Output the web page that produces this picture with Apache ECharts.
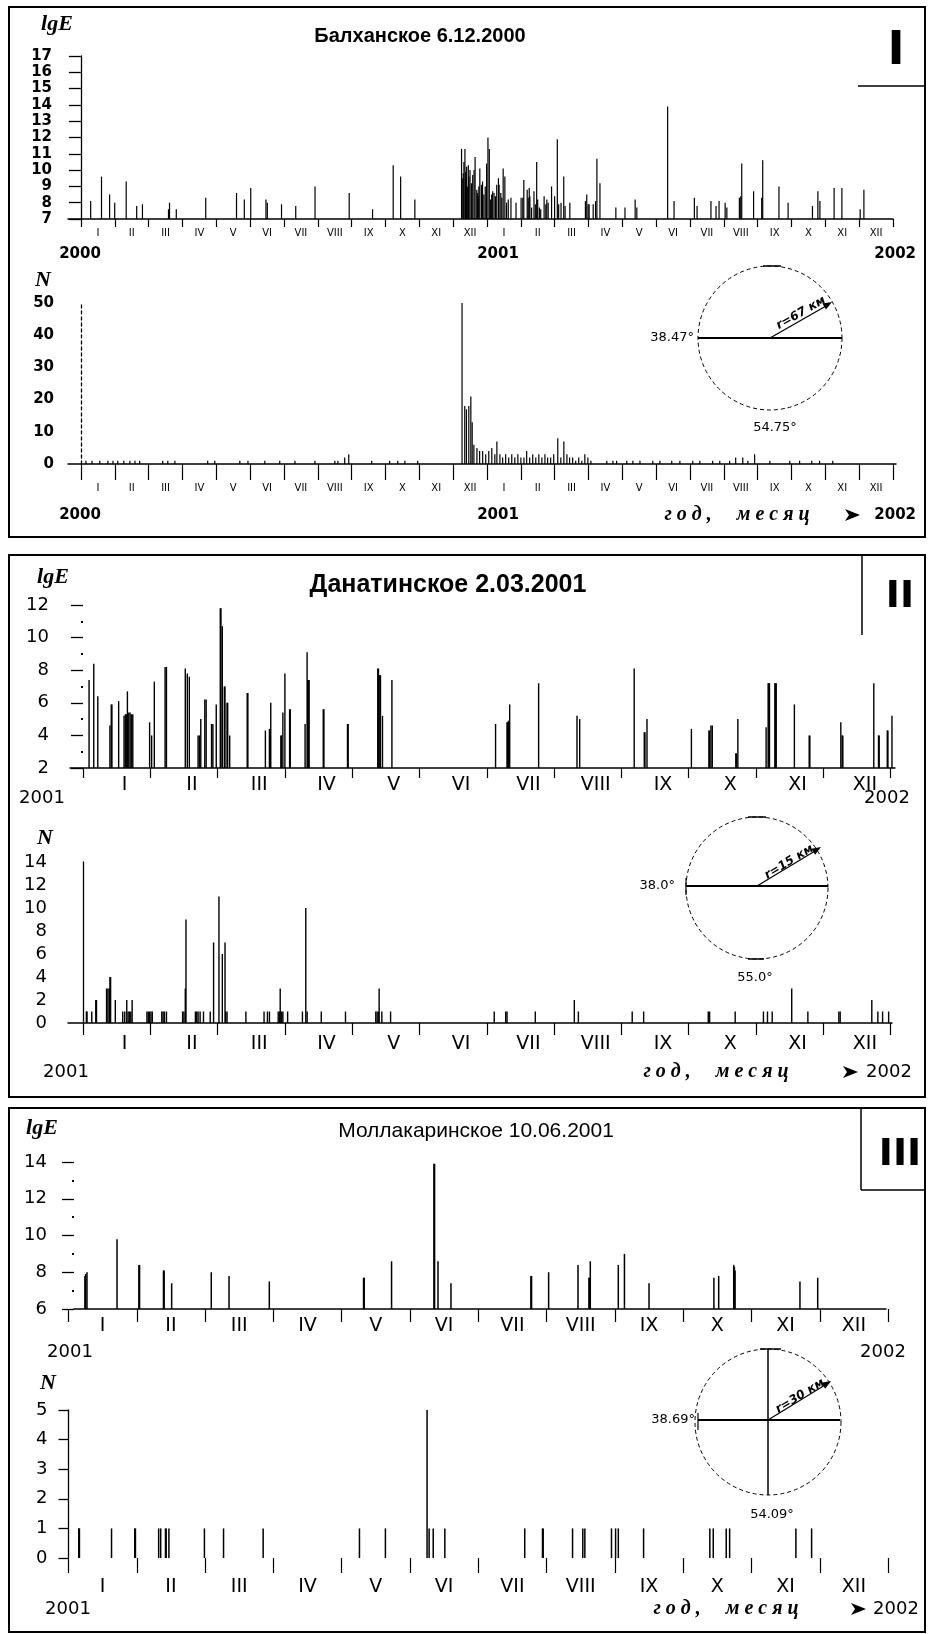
<!DOCTYPE html>
<html><head><meta charset="utf-8">
<script src="https://cdn.jsdelivr.net/npm/echarts@6/dist/echarts.min.js"></script>
<style>html,body{margin:0;padding:0;background:#fff}#c{width:928px;height:1634px}</style>
</head><body><div id="c"></div>
<script>
// ---------- labels ----------
const MONTHS = ['I','II','III','IV','V','VI','VII','VIII','IX','X','XI','XII'];
const MONTHS_2Y = MONTHS.concat(MONTHS);
const YEARS_I = ['2000','2001','2002'];
const YEARS_II = ['2001','2002'];
const TITLES = ['Балханское 6.12.2000','Данатинское 2.03.2001','Моллакаринское 10.06.2001'];

// ---------- data: [month position since 1 Jan of first year, value] ----------
// I. Балханское — lgE (2000–2001)
const balkhanLgE = [[0.29,8.1],[0.61,9.6],[0.85,8.5],[1.00,8.0],[1.34,9.3],[1.65,7.8],[1.82,7.9],[2.59,7.6],[2.62,8.0],[2.82,7.6],[3.69,8.3],[4.60,8.6],[4.83,8.2],[5.02,8.9],[5.47,8.2],[5.51,8.0],[5.93,7.9],[6.35,7.8],[6.92,9.0],[7.93,8.6],[8.62,7.6],[9.23,10.3],[9.45,9.6],[9.87,8.2],
[11.25,11.3],[11.27,9.5],[11.30,9.8],[11.32,10.5],[11.35,11.3],[11.37,9.9],[11.40,10.2],[11.42,9.0],[11.45,10.3],[11.47,9.6],[11.50,10.0],[11.54,9.2],[11.58,9.7],[11.62,10.0],[11.65,10.8],[11.70,8.8],[11.72,8.6],[11.74,8.4],[11.76,9.0],[11.79,10.1],[11.84,9.1],[11.87,9.3],[11.91,8.5],[11.95,9.0],[11.99,10.4],[12.03,12.0],[12.07,11.3],[12.11,8.2],[12.14,8.5],[12.17,8.7],[12.21,8.6],[12.25,8.4],[12.29,9.1],[12.34,9.5],[12.36,9.1],[12.41,8.6],[12.44,8.3],[12.48,10.1],[12.53,9.6],[12.58,8.0],[12.63,8.2],[12.71,8.3],[12.86,8.0],[13.01,8.3],[13.06,8.3],[13.09,9.4],[13.19,8.8],[13.22,8.3],[13.25,8.9],[13.27,8.4],[13.32,7.7],[13.39,8.7],[13.43,7.9],[13.47,10.5],[13.50,8.2],[13.55,7.7],[13.59,7.6],[13.69,8.4],[13.74,7.9],[13.77,8.2],[13.81,8.0],[13.91,9.0],[14.00,8.4],[14.08,11.9],[14.12,7.9],[14.19,8.0],[14.27,9.6],[14.31,7.8],[14.45,8.0],
[14.91,8.1],[14.95,8.5],[14.99,7.9],[15.02,7.9],[15.14,7.9],[15.21,8.1],[15.25,10.7],[15.34,9.2],[15.81,7.7],[16.08,7.7],[16.38,8.2],[16.43,7.7],[17.34,13.9],[17.53,8.1],[18.13,8.3],[18.21,7.8],[18.62,8.1],[18.77,7.8],[18.86,8.1],[19.04,8.0],[19.09,7.7],[19.46,8.3],[19.50,8.4],[19.53,10.4],[19.88,8.7],[20.12,8.3],[20.15,10.6],[20.63,9.0],[20.90,8.0],[21.62,7.8],[21.78,8.7],[21.84,8.1],[22.26,8.9],[22.49,8.9],[23.03,7.6],[23.14,8.8]];
// I. Балханское — N
const balkhanN = [[0.15,1],[0.33,1],[0.56,1],[0.80,1],[0.95,1],[1.09,1],[1.27,1],[1.45,1],[1.60,1],[1.74,1],[2.42,1],[2.57,1],[2.78,1],[3.75,1],[3.96,1],[4.70,1],[4.94,1],[5.44,1],[5.88,1],[6.33,1],[6.92,1],[7.51,1],[7.60,1],[7.80,2],[7.92,3],[8.60,1],[9.13,1],[9.37,1],[9.58,1],[9.96,1],
[11.27,52],[11.35,18],[11.40,17],[11.47,18],[11.53,21],[11.57,13],[11.62,6],[11.71,5],[11.79,4],[11.88,4],[11.97,3],[12.06,4],[12.15,5],[12.24,3],[12.30,7],[12.39,3],[12.47,2],[12.56,3],[12.65,2],[12.74,3],[12.83,2],[12.92,3],[13.01,2],[13.10,2],[13.18,4],[13.27,2],[13.36,3],[13.45,2],[13.54,3],[13.63,2],[13.72,3],[13.80,2],[13.89,2],[13.98,3],[14.10,8],[14.19,2],[14.28,7],[14.37,3],[14.45,2],[14.54,2],[14.63,1],[14.72,2],[14.81,1],[14.90,3],[14.99,2],[15.08,1],
[15.55,1],[15.73,1],[15.84,1],[16.14,1],[16.32,1],[16.53,1],[16.91,1],[17.12,1],[17.47,1],[17.71,1],[18.09,1],[18.30,1],[18.68,1],[18.89,1],[19.18,1],[19.36,2],[19.57,2],[19.72,1],[19.92,3],[20.37,1],[20.96,1],[21.25,1],[21.61,1],[21.84,1],[22.23,1]];
// II. Данатинское — lgE (2001)
const danataLgE = [[0.09,7.4],[0.16,8.4],[0.22,6.4],[0.40,4.6],[0.42,5.9],[0.43,5.9],[0.53,6.1],[0.61,5.2],[0.63,5.3],[0.65,5.3],[0.66,6.7],[0.68,5.4],[0.70,5.4],[0.72,5.3],[0.74,5.3],[0.99,4.8],[1.02,4.0],[1.06,7.3],[1.22,8.2],[1.24,8.2],[1.52,8.1],[1.55,7.8],[1.58,7.6],[1.71,4.0],[1.73,4.0],[1.75,5.0],[1.81,6.2],[1.83,6.2],[1.91,4.7],[1.93,4.7],[1.98,5.9],[2.04,11.8],[2.05,11.8],[2.07,10.7],[2.10,7.0],[2.11,7.0],[2.14,6.0],[2.15,6.0],[2.18,4.0],[2.44,6.6],[2.45,6.6],[2.71,4.3],[2.77,4.4],[2.78,4.4],[2.79,6.0],[2.94,4.0],[2.95,4.0],[2.97,5.4],[3.00,7.8],[3.07,5.6],[3.08,5.6],[3.30,4.7],[3.33,9.1],[3.34,7.4],[3.35,7.4],[3.36,7.4],[3.57,5.6],[3.58,5.6],[3.93,4.7],[3.94,4.7],[4.38,8.1],[4.39,8.1],[4.41,7.7],[4.42,7.7],[4.45,5.2],[4.59,7.4],
[6.13,4.7],[6.30,4.8],[6.31,4.8],[6.32,4.9],[6.34,5.9],[6.77,7.2],[7.34,5.2],[7.38,5.0],[8.19,8.1],[8.34,4.2],[8.35,4.2],[8.38,5.0],[9.04,4.4],[9.30,4.3],[9.31,4.3],[9.33,4.6],[9.35,4.6],[9.70,2.9],[9.71,2.9],[9.73,5.0],[10.15,4.5],[10.18,7.2],[10.19,7.2],[10.20,7.2],[10.28,7.2],[10.29,7.2],[10.30,7.2],[10.57,5.9],[10.79,4.0],[10.80,4.0],[11.26,4.8],[11.28,4.0],[11.29,4.0],[11.75,7.2],[11.82,4.0],[11.83,4.0],[11.95,4.3],[11.96,4.3],[12.02,5.2]];
// II. Данатинское — N
const danataN = [[0.05,1],[0.06,1],[0.13,1],[0.19,2],[0.20,2],[0.35,3],[0.37,3],[0.39,3],[0.40,4],[0.41,4],[0.48,2],[0.59,1],[0.62,1],[0.65,2],[0.67,1],[0.69,1],[0.71,1],[0.73,2],[0.95,1],[0.97,1],[0.99,1],[1.01,1],[1.03,1],[1.17,1],[1.19,1],[1.21,1],[1.24,1],[1.48,1],[1.50,1],[1.52,3],[1.53,9],[1.67,1],[1.69,1],[1.71,1],[1.74,1],[1.79,1],[1.89,1],[1.94,7],[2.02,11],[2.07,6],[2.11,7],[2.12,1],[2.14,1],[2.42,1],[2.69,1],[2.74,1],[2.77,1],[2.90,1],[2.92,1],[2.93,3],[2.95,1],[2.97,1],[3.04,1],[3.26,1],[3.31,10],[3.33,1],[3.54,1],[3.90,1],[4.35,1],[4.37,1],[4.39,1],[4.40,3],[4.44,1],[4.57,1],
[6.11,1],[6.28,1],[6.30,1],[6.72,1],[7.30,2],[7.36,1],[8.16,1],[8.33,1],[9.29,1],[9.31,1],[9.69,1],[10.11,1],[10.17,1],[10.24,1],[10.53,3],[10.77,1],[11.23,1],[11.25,1],[11.72,2],[11.81,1],[11.88,1],[11.97,1]];
// III. Моллакаринское — lgE (2001)
const mollaLgE = [[0.24,7.8],[0.25,7.9],[0.27,8.0],[0.71,9.8],[1.03,8.4],[1.04,8.4],[1.39,8.1],[1.40,8.1],[1.51,7.4],[2.09,8.0],[2.35,7.8],[2.94,7.5],[4.32,7.7],[4.33,7.7],[4.73,8.6],[5.35,13.9],[5.36,13.9],[5.41,8.6],[5.60,7.4],[6.77,7.8],[6.78,7.8],[7.03,8.0],[7.46,8.4],[7.62,7.7],[7.63,7.7],[7.64,8.6],[8.05,8.4],[8.14,9.0],[8.50,7.4],[9.45,7.7],[9.52,7.8],[9.74,8.4],[9.75,8.3],[9.76,8.1],[10.71,7.5],[10.97,7.7]];
// III. Моллакаринское — N
const mollaN = [[0.15,1],[0.16,1],[0.63,1],[0.97,1],[0.98,1],[1.32,1],[1.35,1],[1.42,1],[1.43,1],[1.47,1],[1.99,1],[2.27,1],[2.85,1],[4.26,1],[4.64,1],[5.25,5],[5.28,1],[5.34,1],[5.51,1],[6.68,1],[6.94,1],[6.95,1],[7.38,1],[7.53,1],[7.56,1],[7.95,1],[8.01,1],[8.05,1],[8.42,1],[9.39,1],[9.44,1],[9.63,1],[9.68,1],[10.65,1],[10.88,1]];

// ---------- builder ----------
const grids = [], xAxes = [], yAxes = [], series = [];
const SANS = 'DejaVu Sans';
function chart(o) {
  const gi = grids.length;
  grids.push({left:o.left, top:o.top, width:o.width, height:o.height});
  xAxes.push({type:'value', gridIndex:gi, min:o.xmin, max:o.xmax, position:'bottom',
    axisLine:{show:o.xLine !== false, onZero:false, lineStyle:{color:'#000', width:1.5}},
    axisTick:{show:false}, axisLabel:{show:false}, splitLine:{show:false}});
  yAxes.push({type:'value', gridIndex:gi, min:o.ymin, max:o.ymax, interval:o.yint,
    axisLine:{show:o.yLine !== false, onZero:true, lineStyle:{color:'#000', width:1.3, type:o.yDash ? [3,3] : 'solid'}},
    axisTick:{show:o.yTick !== false, length:o.yTickLen || 10, lineStyle:{color:'#000', width:1.3}},
    minorTick:{show:!!o.yMinor, splitNumber:2, length:2, lineStyle:{color:'#000', width:2}},
    axisLabel:{color:'#000', fontFamily:SANS, fontSize:o.yFs, fontWeight:o.yFw || 'normal', margin:o.yMargin},
    splitLine:{show:false}, minorSplitLine:{show:false}});
  series.push({type:'bar', name:o.name, xAxisIndex:xAxes.length - 1, yAxisIndex:yAxes.length - 1,
    data:o.data, barWidth:o.bw, itemStyle:{color:'#000'}, animation:false, silent:true, clip:true});
  // month axis
  const lg = grids.length;
  grids.push({left:o.lLeft, top:o.axisY - 1, width:o.lWidth, height:1});
  yAxes.push({type:'value', gridIndex:lg, show:false});
  xAxes.push({type:'category', gridIndex:lg, data:o.months, boundaryGap:true, position:'bottom',
    axisLine:{show:false},
    axisTick:{show:true, length:o.mTick, lineStyle:{color:'#000', width:1.2}},
    axisLabel:{interval:0, margin:o.mMargin, color:'#000', fontFamily:SANS, fontSize:o.mFs, padding:o.mPad || 0},
    splitLine:{show:false}});
  // year axis
  const yg = grids.length;
  grids.push({left:o.yrLeft, top:o.yrY - o.yrFs / 2 - 1, width:o.yrWidth, height:1});
  yAxes.push({type:'value', gridIndex:yg, show:false});
  xAxes.push({type:'value', gridIndex:yg, min:0, max:o.months.length, interval:12, position:'bottom',
    axisLine:{show:false}, axisTick:{show:false}, splitLine:{show:false},
    axisLabel:{margin:0, color:'#000', fontFamily:SANS, fontSize:o.yrFs, fontWeight:o.yrFw || 'normal',
      showMinLabel:true, showMaxLabel:true, alignMaxLabel:o.yrAlignMax || 'center',
      formatter:(v) => o.years[Math.round(v / 12)] || ''}});
}

// Panel I
chart({name:'lgE I', data:balkhanLgE, left:68, top:56, width:825, height:163, xmin:-0.38, xmax:24,
  ymin:7, ymax:17, yint:1, yFs:15, yFw:'bold', yMargin:16, yTickLen:12, bw:1.2,
  lLeft:81, lWidth:812, axisY:219, months:MONTHS_2Y, mTick:8, mMargin:9, mFs:10,
  years:YEARS_I, yrLeft:80, yrWidth:836, yrY:254, yrFs:15, yrFw:'bold', yrAlignMax:'right'});
chart({name:'N I', data:balkhanN, left:68, top:303, width:828, height:161, xmin:-0.38, xmax:24.1,
  ymin:0, ymax:50, yint:10, yFs:15, yFw:'bold', yMargin:14, yTick:false, yDash:true, bw:1.2,
  lLeft:81, lWidth:812, axisY:464, months:MONTHS_2Y, mTick:16, mMargin:19, mFs:10,
  years:YEARS_I, yrLeft:80, yrWidth:836, yrY:515, yrFs:15, yrFw:'bold', yrAlignMax:'right'});
// Panel II
chart({name:'lgE II', data:danataLgE, left:70, top:605, width:825, height:163, xmin:-0.193, xmax:12.065,
  ymin:2, ymax:12, yint:2, yFs:18, yMargin:21, yTickLen:12, yLine:false, yMinor:true, bw:1.4,
  lLeft:83, lWidth:807.6, axisY:768, months:MONTHS, mTick:10, mMargin:8, mFs:19, mPad:[0,0,0,16],
  years:YEARS_II, yrLeft:42, yrWidth:845, yrY:798, yrFs:18});
chart({name:'N II', data:danataN, left:68, top:862, width:824, height:161, xmin:-0.223, xmax:12.02,
  ymin:0, ymax:14, yint:2, yFs:18, yMargin:21, yTick:false, bw:1.4,
  lLeft:83, lWidth:807.6, axisY:1023, months:MONTHS, mTick:12, mMargin:12, mFs:19, mPad:[0,0,0,16],
  years:YEARS_II, yrLeft:66, yrWidth:823, yrY:1072, yrFs:18});
// Panel III
chart({name:'lgE III', data:mollaLgE, left:74, top:1162, width:812, height:147, xmin:0.08, xmax:11.97,
  ymin:6, ymax:14, yint:2, yFs:18, yMargin:27, yTickLen:12, yLine:false, yMinor:true, bw:1.5,
  lLeft:68.5, lWidth:819.6, axisY:1309, months:MONTHS, mTick:13, mMargin:8, mFs:19,
  years:YEARS_II, yrLeft:70, yrWidth:813, yrY:1352, yrFs:18});
chart({name:'N III', data:mollaN, left:68.5, top:1410, width:819.6, height:148, xmin:0, xmax:12,
  ymin:0, ymax:5, yint:1, yFs:18, yMargin:21, yTickLen:10, xLine:false, bw:1.5,
  lLeft:68.5, lWidth:819.6, axisY:1558, months:MONTHS, mTick:15, mMargin:20, mFs:19,
  years:YEARS_II, yrLeft:68, yrWidth:828, yrY:1609, yrFs:18});

// ---------- decorations ----------
const K = '#000';
function line(x1,y1,x2,y2,w){return {type:'line', shape:{x1,y1,x2,y2}, style:{stroke:K, lineWidth:w || 1.5}, silent:true};}
function txt(x,y,text,font,align,extra){return Object.assign({type:'text', x, y, style:{text, font, fill:K, textAlign:align || 'center', textVerticalAlign:'middle'}, silent:true}, extra || {});}
function poly(points){return {type:'polygon', shape:{points}, style:{fill:K}, silent:true};}
function circle(cx,cy,r){return {type:'circle', shape:{cx,cy,r}, style:{fill:'none', stroke:K, lineWidth:1, lineDash:[4,3]}, silent:true};}
const axisNameFont = 'italic bold 22px "Liberation Serif"';
const coordFont = '13px "DejaVu Sans"';
const rFont = 'italic bold 12px "DejaVu Sans"';
const ymFont = 'italic bold 20px "Liberation Serif"';
const ymText = 'г о д ,     м е с я ц';
function arrow(x,y){return poly([[x,y-6],[x+15,y],[x,y+6],[x+4,y]]);}

const graphic = [
  // panel frames
  {type:'rect', shape:{x:9, y:7, width:916, height:530}, style:{fill:'none', stroke:K, lineWidth:2}, silent:true},
  {type:'rect', shape:{x:9, y:555, width:916, height:542}, style:{fill:'none', stroke:K, lineWidth:2}, silent:true},
  {type:'rect', shape:{x:9, y:1108, width:916, height:524}, style:{fill:'none', stroke:K, lineWidth:2}, silent:true},
  line(858,86,925,86,1.5), line(862,555,862,635,1.5), line(861,1108,861,1190,1.5), line(861,1190,925,1190,1.5),
  txt(896,52,'I','bold 46px "DejaVu Sans"'), txt(900,597,'II','bold 38px "DejaVu Sans"'), txt(900,1155,'III','bold 38px "DejaVu Sans"'),
  txt(420,36,TITLES[0],'bold 20px "Liberation Sans"'), txt(448,585,TITLES[1],'bold 25px "Liberation Sans"'), txt(476,1131,TITLES[2],'21px "Liberation Sans"'),
  txt(57,24,'lgE',axisNameFont), txt(43,280,'N',axisNameFont),
  txt(53,577,'lgE',axisNameFont), txt(45,838,'N',axisNameFont),
  txt(42,1128,'lgE',axisNameFont), txt(48,1383,'N',axisNameFont),
  // year, month caption
  txt(737,515,ymText,ymFont), arrow(845,515),
  txt(716,1072,ymText,ymFont), arrow(843,1072),
  txt(726,1609,ymText,ymFont), arrow(851,1609),
  // circle I
  circle(770,338,72), line(698,338,842,338,2), line(763,266,781,266,1.5),
  line(770,338,826,306,1.2), poly([[832,302],[826,309.5],[822.4,303.5]]),
  txt(801,313,'r=67 км',rFont,'center',{rotation:0.52}),
  txt(694,338,'38.47°',coordFont,'right'), txt(775,428,'54.75°',coordFont),
  // circle II
  circle(757,888,71), line(686,886,828,886,2), line(686,878,686,895,1.2), line(748,959,764,959,1.5), line(748,817,766,817,1.5),
  line(757,886,815,851,1.2), poly([[821,847],[815.1,854.7],[811.5,848.7]]),
  txt(789,862,'r=15 км',rFont,'center',{rotation:0.55}),
  txt(675,886,'38.0°',coordFont,'right'), txt(755,978,'55.0°',coordFont),
  // circle III
  circle(768,1422,73), line(698,1420,840,1420,2), line(768,1349,768,1495,1.5), line(760,1349,781,1349,1.5), line(698,1413,698,1430,1.2),
  line(768,1420,825,1385,1.2), poly([[831,1381],[825.2,1388.7],[821.5,1382.7]]),
  txt(800,1396,'r=30 км',rFont,'center',{rotation:0.55}),
  txt(695,1420,'38.69°',coordFont,'right'), txt(772,1515,'54.09°',coordFont)
];

const chartObj = echarts.init(document.getElementById('c'), null, {renderer:'canvas'});
chartObj.setOption({
  animation:false,
  backgroundColor:'#fff',
  grid:grids, xAxis:xAxes, yAxis:yAxes, series, graphic
});
</script>
</body></html>
